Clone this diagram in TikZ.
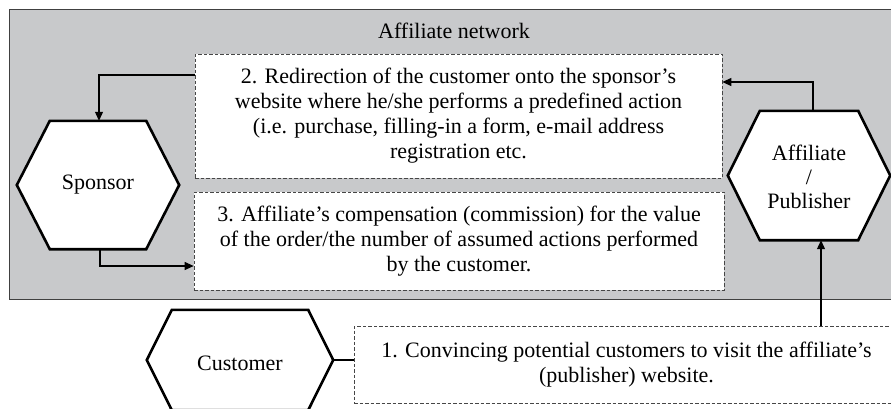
\documentclass[tikz,border=0pt]{standalone}
\usepackage{fontspec}
\setmainfont{Liberation Serif}
\usetikzlibrary{arrows.meta,calc}

\definecolor{netgray}{RGB}{200,201,203}
\definecolor{dashgray}{RGB}{70,70,70}

% hexagon with flat top/bottom; #2 = horizontal inset of the top corners
\newcommand\hexagonof[2]{%
  \draw[hexline] (#1.west) -- ([xshift=#2]#1.north west) -- ([xshift=-#2]#1.north east)
    -- (#1.east) -- ([xshift=-#2]#1.south east) -- ([xshift=#2]#1.south west) -- cycle;}

\tikzset{
  every node/.style={font=\fontsize{22}{25}\selectfont},
  hexline/.style={draw=black, fill=white, line width=2.6pt, line join=miter},
  hexnode/.style={inner sep=0pt, align=center},
  stepbox/.style={draw=dashgray, fill=white, line width=0.7pt, dash pattern=on 3.5pt off 2pt,
    inner sep=0pt, align=center},
  flow/.style={draw=black, line width=1.1pt, -{Triangle[length=9pt,width=8pt]}},
  plainlink/.style={draw=black, line width=1.1pt}
}

\begin{document}
\begin{tikzpicture}[x=1pt,y=-1pt]
\useasboundingbox (0,0) rectangle (891,408);

% affiliate network area
\draw[fill=netgray, draw=black!75, line width=0.8pt] (9,9) rectangle (900,299);
\node (net) at (454,31) {Affiliate network};

% participants (node box = hexagon bounding box)
\node[hexnode, minimum width=162pt, minimum height=128pt] (sponsor) at (98,185) {};
\hexagonof{sponsor}{33pt}
\node at (sponsor.center) {Sponsor};

\node[hexnode, minimum width=162pt, minimum height=129pt] (affiliate) at (809,175.5) {};
\hexagonof{affiliate}{32pt}
\node[align=center, font=\fontsize{22}{24}\selectfont] at ([yshift=-1pt]affiliate.center) {Affiliate\\/\\Publisher};

\node[hexnode, minimum width=186pt, minimum height=100pt] (customer) at (240,360) {};
\hexagonof{customer}{25pt}
\node at ([yshift=-3pt]customer.center) {Customer};

% process steps
\node[stepbox, minimum width=527pt, minimum height=124pt] (s2) at (458.5,116)
  {2. Redirection of the customer onto the sponsor’s\\
   website where he/she performs a predefined action\\
   (i.e. purchase, filling-in a form, e-mail address\\
   registration etc.};
\node[stepbox, minimum width=530pt, minimum height=98pt] (s3) at (459,241)
  {3. Affiliate’s compensation (commission) for the value\\
   of the order/the number of assumed actions performed\\
   by the customer.};
\node[stepbox, minimum width=545pt, minimum height=77pt] (s1) at (626.5,364.5)
  {1. Convincing potential customers to visit the affiliate’s\\
   (publisher) website.};

% connectors
\coordinate (s2turn) at (99,75);
\draw[flow] (s2.west |- s2turn) -- (s2turn) -- (sponsor.north -| s2turn);

\coordinate (s3turn) at (100,266);
\draw[flow] (sponsor.south -| s3turn) -- (s3turn) -- (s3.west |- s3turn);

\coordinate (affturn) at (813,82);
\draw[flow] (affiliate.north -| affturn) -- (affturn) -- (s2.east |- affturn);

\coordinate (s1up) at (821,300);
\draw[flow] (s1.north -| s1up) -- (affiliate.south -| s1up);

\draw[plainlink] (customer.east) -- (s1.west |- customer.east);
\end{tikzpicture}
\end{document}
